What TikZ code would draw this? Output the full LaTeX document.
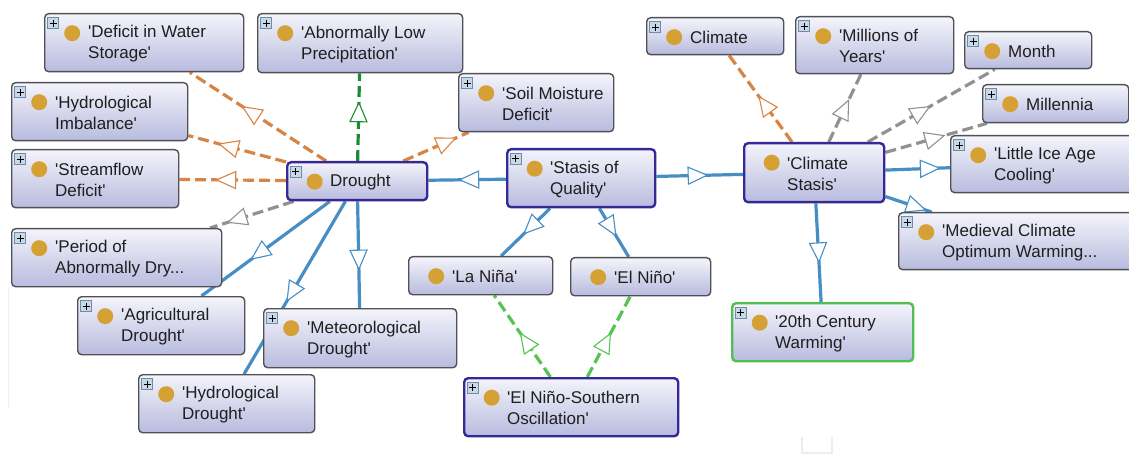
\documentclass[tikz,border=0pt]{standalone}
\usepackage{fontspec}
\setmainfont{Liberation Sans}[Ligatures=TeXOff]
\usetikzlibrary{calc,decorations.markings}

\definecolor{edgeblue}{RGB}{70,142,196}
\definecolor{edgeorange}{RGB}{216,132,68}
\definecolor{edgegray}{RGB}{145,145,145}
\definecolor{edgedkgreen}{RGB}{28,140,50}
\definecolor{edgeltgreen}{RGB}{85,196,80}
\definecolor{boxtop}{RGB}{244,244,251}
\definecolor{boxbot}{RGB}{184,187,222}
\definecolor{boxline}{RGB}{80,80,86}
\definecolor{keyline}{RGB}{55,40,150}
\definecolor{greenline}{RGB}{80,190,80}
\definecolor{dotgold}{RGB}{213,160,52}
\definecolor{plusfill}{RGB}{200,216,230}
\definecolor{plusline}{RGB}{110,140,165}

\pgfdeclarelayer{bg}
\pgfsetlayers{bg,main}

\tikzset{
  clsbox/.style={draw=boxline, line width=1.4pt, rounded corners=4pt,
    top color=boxtop, bottom color=boxbot, inner sep=0pt, anchor=north west,
    path picture={
      \fill[dotgold] ($(path picture bounding box.north west)+(27.5pt,-19.5pt)$) circle (8pt);
      \draw[plusline, fill=plusfill, line width=0.8pt, sharp corners]
        ($(path picture bounding box.north west)+(3pt,-4pt)$) rectangle +(11pt,-11pt);
      \draw[black, line width=1.3pt, sharp corners]
        ($(path picture bounding box.north west)+(5pt,-9.5pt)$) -- +(7pt,0pt)
        ($(path picture bounding box.north west)+(8.5pt,-6pt)$) -- +(0pt,-7pt);
    }},
  noplus/.style={path picture={
      \fill[dotgold] ($(path picture bounding box.north west)+(27.5pt,-19.5pt)$) circle (8pt);
    }},
  keyclass/.style={draw=keyline, line width=2.4pt},
  selclass/.style={draw=greenline, line width=2.4pt},
  clstext/.style={font=\fontsize{17}{21}\selectfont, align=left, inner sep=0pt,
    anchor=west, text=black!88},
  subline/.style={line width=3.2pt},
  propline/.style={line width=3.2pt, dash pattern=on 11pt off 5pt},
}

% class box: [extra style]{name}{x}{y}{width}{height}{label}
\newcommand{\owlcls}[7][]{%
  \node[clsbox,#1,minimum width=#5pt,minimum height=#6pt] (#2) at (#3,#4) {};
  \node[clstext] (#2-label) at ($(#2.west)+(44,1)$) {#7};
}

% connector: {line style}{colour}{from}{to}; open head centred on the midpoint
\newcommand{\owledge}[4]{%
  \draw[#1, draw=#2] (#3) -- (#4);
  \path[decoration={markings, mark=at position 0.5 with {
      \draw[#2, solid, fill=white, line width=1.1pt, line join=miter]
        (-9.5pt,-8.5pt) -- (9.5pt,0pt) -- (-9.5pt,8.5pt) -- cycle;}},
    decorate] (#3.center) -- (#4.center);
}

\begin{document}
\begin{tikzpicture}[x=1pt,y=-1pt]
\useasboundingbox (0,0) rectangle (1129,454);
\begin{pgfonlayer}{bg}
  \fill[white] (0,0) rectangle (1129,454);
  % faint panel traces
  \draw[gray!12, line width=1pt] (8,287) -- (8,408);
  \draw[gray!14, line width=1.5pt] (802,437) -- (802,453) -- (832,453) -- (832,437);
\end{pgfonlayer}

% classes around Drought
\owlcls{dws}{44}{13}{199}{58}{'Deficit in Water\\Storage'}
\owlcls{alp}{257}{13}{205}{59}{'Abnormally Low\\Precipitation'}
\owlcls{hi}{11}{82}{176}{58}{'Hydrological\\Imbalance'}
\owlcls{smd}{458}{73}{155}{58}{'Soil Moisture\\Deficit'}
\owlcls{sfd}{11}{149}{167}{58}{'Streamflow\\Deficit'}
\owlcls[keyclass]{drought}{286}{161}{140}{38}{Drought}
\owlcls{pad}{11}{228}{210}{58}{'Period of\\Abnormally Dry...}
\owlcls{agd}{77}{296}{167}{58}{'Agricultural\\Drought'}
\owlcls{med}{263}{308}{193}{59}{'Meteorological\\Drought'}
\owlcls{hyd}{138}{374}{176}{58}{'Hydrological\\Drought'}

% middle
\owlcls[keyclass]{soq}{506}{148}{148}{58}{'Stasis of\\Quality'}
\owlcls[noplus]{lan}{408}{256}{144}{38}{'La Niña'}
\owlcls[noplus]{eln}{570}{257}{140}{38}{'El Niño'}
\owlcls[keyclass]{enso}{463}{377}{214}{58}{'El Niño-Southern\\Oscillation'}

% classes around Climate Stasis
\owlcls{clim}{646}{17}{137}{37}{Climate}
\owlcls{moy}{795}{16}{158}{57}{'Millions of\\Years'}
\owlcls{mon}{964}{31}{127}{37}{Month}
\owlcls{mil}{982}{84}{146}{38}{Millennia}
\owlcls[keyclass,noplus]{cs}{743}{142}{140}{59}{'Climate\\Stasis'}
\owlcls{lia}{950}{135}{190}{57}{'Little Ice Age\\Cooling'}
\owlcls{mco}{898}{212}{240}{57}{'Medieval Climate\\Optimum Warming...}
\owlcls[selclass]{tcw}{731}{302}{181}{58}{'20th Century\\Warming'}

\begin{pgfonlayer}{bg}
  % Drought
  \owledge{propline}{edgeorange}{drought}{dws}
  \owledge{propline}{edgeorange}{drought}{hi}
  \owledge{propline}{edgeorange}{drought}{sfd}
  \owledge{propline}{edgeorange}{drought}{smd}
  \owledge{propline}{edgedkgreen}{drought}{alp}
  \owledge{propline}{edgegray}{drought}{pad}
  \owledge{subline}{edgeblue}{drought}{agd}
  \owledge{subline}{edgeblue}{drought}{hyd}
  \owledge{subline}{edgeblue}{drought}{med}
  % Stasis of Quality
  \owledge{subline}{edgeblue}{soq}{drought}
  \owledge{subline}{edgeblue}{soq}{cs}
  \owledge{subline}{edgeblue}{soq}{lan}
  \owledge{subline}{edgeblue}{soq}{eln}
  % ENSO
  \owledge{propline}{edgeltgreen}{enso}{lan}
  \owledge{propline}{edgeltgreen}{enso}{eln}
  % Climate Stasis
  \owledge{propline}{edgeorange}{cs}{clim}
  \owledge{propline}{edgegray}{cs}{moy}
  \owledge{propline}{edgegray}{cs}{mon}
  \owledge{propline}{edgegray}{cs}{mil}
  \owledge{subline}{edgeblue}{cs}{lia}
  \owledge{subline}{edgeblue}{cs}{mco}
  \owledge{subline}{edgeblue}{cs}{tcw}
\end{pgfonlayer}
\end{tikzpicture}
\end{document}
